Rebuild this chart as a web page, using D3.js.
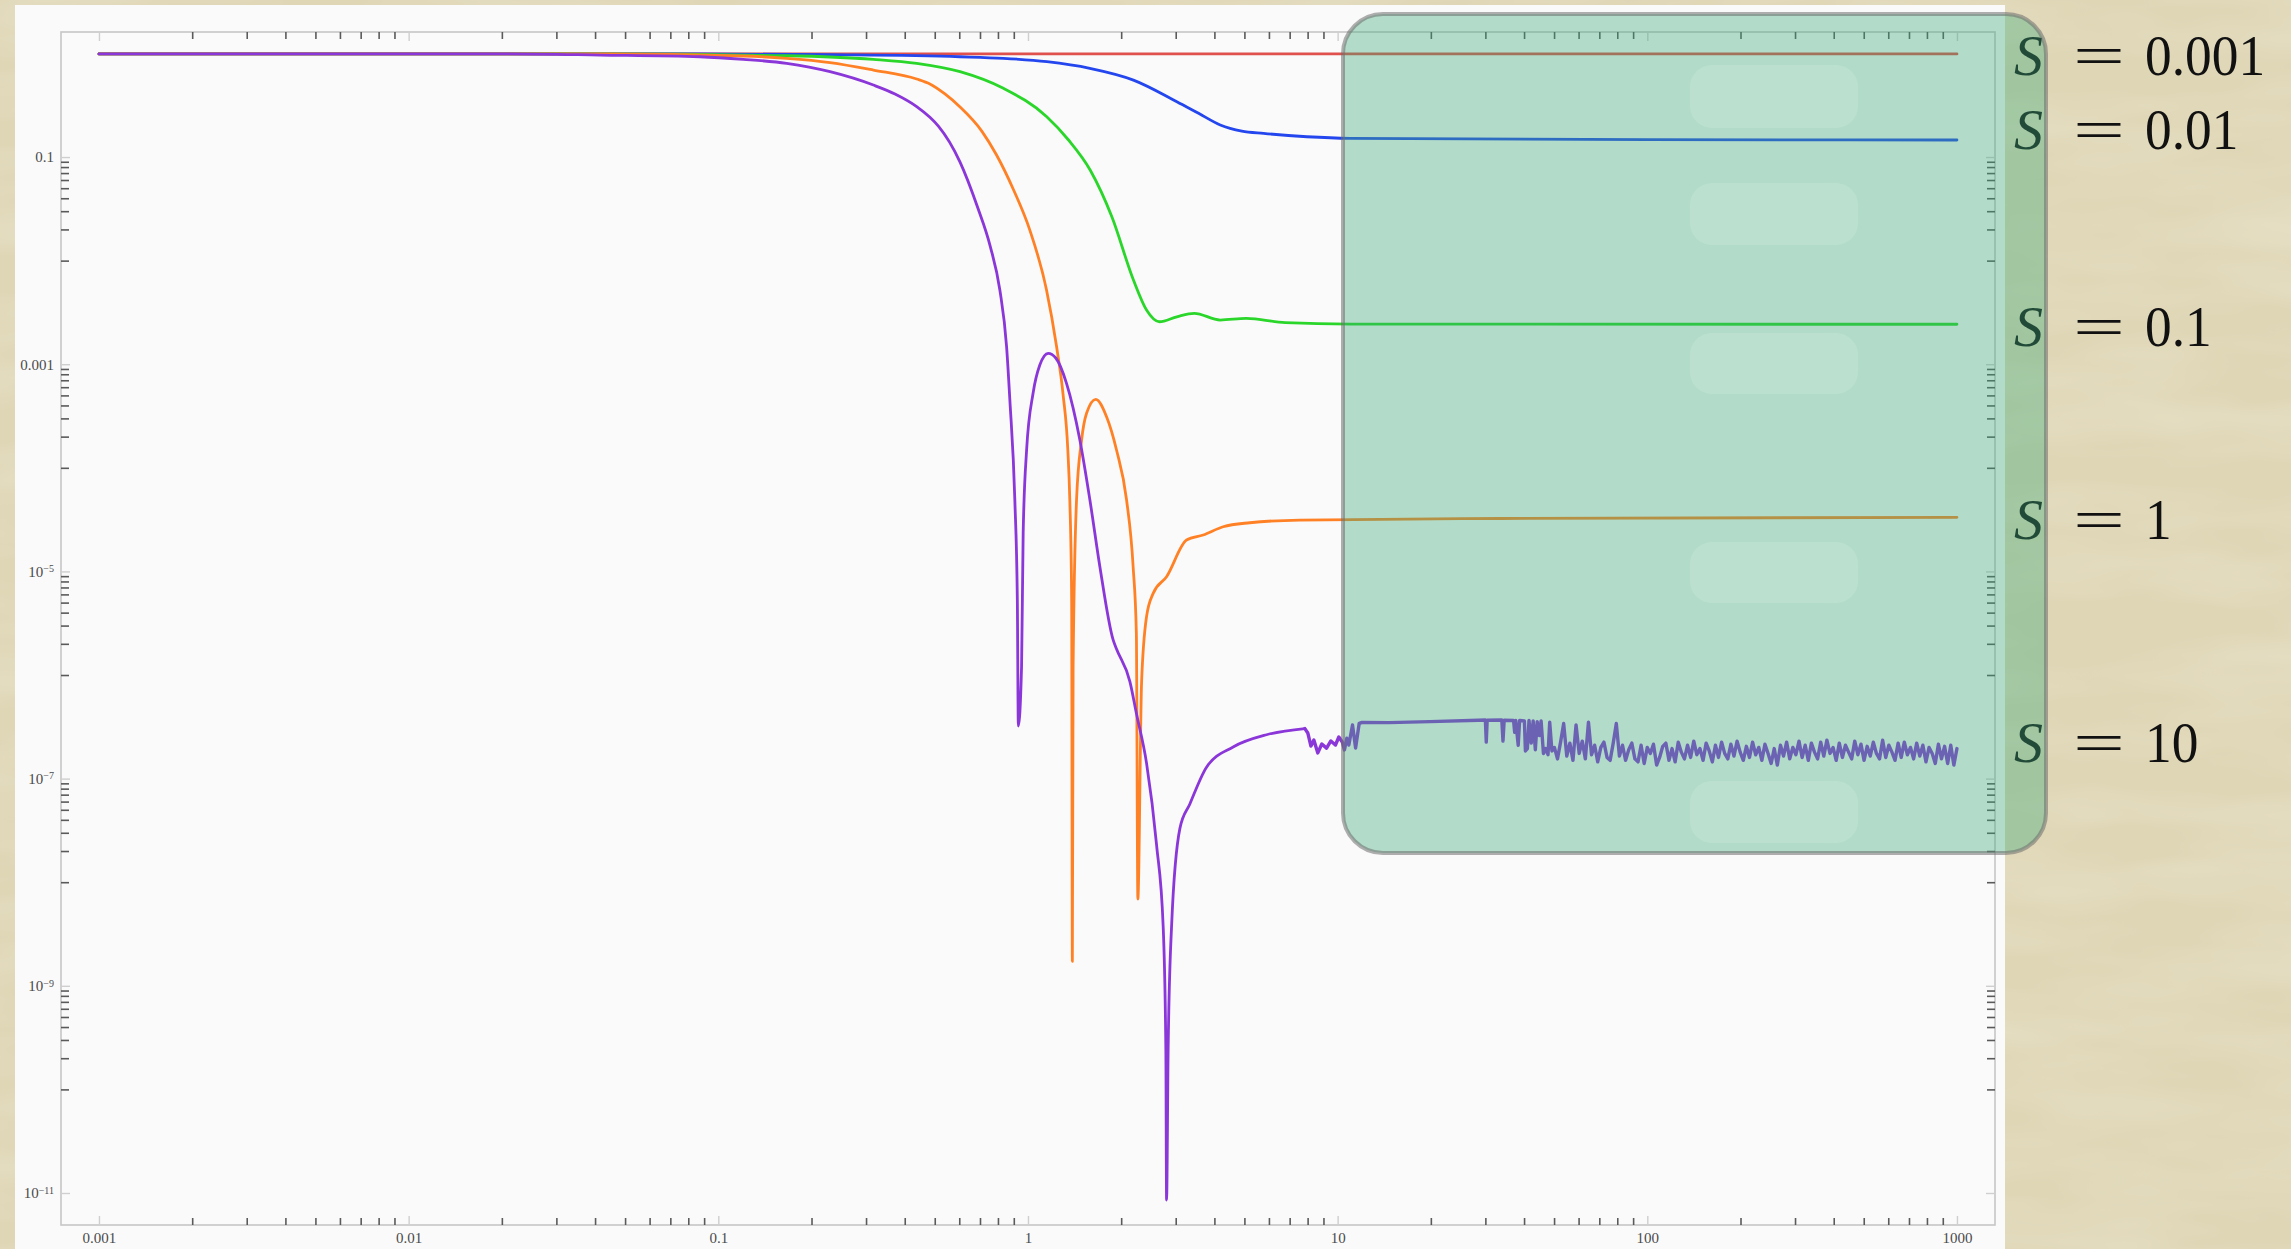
<!DOCTYPE html>
<html>
<head>
<meta charset="utf-8">
<script src="https://cdn.jsdelivr.net/npm/d3@7"></script>
<style>
  html, body { margin: 0; padding: 0; background: #dfd6b6; overflow: hidden; }
  svg { display: block; }
</style>
</head>
<body>
<svg id="chart" width="2291" height="1249"></svg>
<script>
// ---- data: |response| vs frequency for several S values (log-log) ----
const seriesNames  = ["S = 0.001", "S = 0.01", "S = 0.1", "S = 1", "S = 10"];
const seriesValues = ["0.001", "0.01", "0.1", "1", "10"];
const seriesColors = ["#e0504c", "#2446ee", "#2ad62a", "#ff8126", "#8a36d8"];

const curveS0001 = [[0.001, 0.99], [0.01, 0.99], [0.1, 0.99], [1, 0.99], [10, 0.99], [100, 0.99], [1000, 0.99]];

const curveS001 = [
  [0.001, 0.99], [0.0872, 0.99], [0.2293, 0.972], [0.6026, 0.929], [0.833, 0.897],
  [1.151, 0.832], [1.584, 0.718], [2.191, 0.553], [3.026, 0.342], [3.556, 0.264],
  [4.178, 0.204], [4.906, 0.178], [5.765, 0.169], [7.955, 0.157], [10.99, 0.1516],
  [100, 0.147], [1000, 0.146]
];

const curveS01 = [
  [0.001, 0.99], [0.0415, 0.99], [0.1662, 0.95], [0.3168, 0.877], [0.4371, 0.802],
  [0.6035, 0.666], [0.833, 0.46], [1.15, 0.245], [1.352, 0.146], [1.588, 0.0749],
  [1.866, 0.0265], [2.191, 0.0065], [2.415, 0.00334], [2.66, 0.00257], [3.026, 0.00287],
  [3.443, 0.0031], [4.178, 0.00267], [5.069, 0.00277], [6.773, 0.00252], [10.99, 0.00244],
  [1000, 0.00243]
];

const curveS1 = [
  [0.001, 0.99], [0.0415, 0.99], [0.1204, 0.944], [0.1662, 0.897], [0.2295, 0.817],
  [0.3168, 0.691], [0.4371, 0.566], [0.4823, 0.507], [0.5393, 0.406], [0.6035, 0.304],
  [0.7093, 0.178], [0.7917, 0.1045], [0.8958, 0.0491], [1.014, 0.0197], [1.148, 0.0052],
  [1.237, 0.00148], [1.299, 5.04e-4], [1.345, 1.485e-4], [1.365, 4.89e-5], [1.384, 5.3e-6],
  [1.391, 1.72e-9], [1.399, 1.2e-6], [1.435, 4.89e-5], [1.490, 1.855e-4], [1.546, 3.36e-4],
  [1.656, 4.58e-4], [1.794, 3.11e-4], [1.932, 1.485e-4], [2.082, 4.89e-5], [2.186, 1.11e-5],
  [2.239, 2.54e-6], [2.264, 6.88e-9], [2.327, 8.31e-7], [2.415, 3.66e-6], [2.537, 6.14e-6],
  [2.803, 8.89e-6], [3.252, 2.01e-5], [3.680, 2.245e-5], [4.268, 2.70e-5], [5.206, 2.95e-5],
  [7.549, 3.13e-5], [33.4, 3.24e-5], [1000, 3.33e-5]
];

// S = 10: smooth part up to the first plateau
const curveS10 = [
  [0.001, 0.99], [0.0197, 0.99], [0.0415, 0.965], [0.0872, 0.929], [0.1204, 0.877],
  [0.1662, 0.802], [0.2295, 0.666], [0.3168, 0.495], [0.372, 0.406], [0.4371, 0.307],
  [0.4823, 0.242], [0.5137, 0.199], [0.6035, 0.0894], [0.6867, 0.0331], [0.7562, 0.0136],
  [0.8114, 0.0052], [0.853, 0.00148], [0.874, 4.53e-4], [0.907, 4.89e-5], [0.924, 5.3e-6],
  [0.931, 3.22e-7], [0.9535, 1.2e-6], [0.965, 2.35e-5], [0.990, 1.485e-4], [1.039, 5.27e-4],
  [1.092, 9.82e-4], [1.162, 1.274e-3], [1.230, 1.148e-3], [1.332, 6.54e-4], [1.471, 1.855e-4],
  [1.585, 4.89e-5], [1.707, 1.11e-5], [1.884, 2.18e-6], [1.932, 1.78e-6], [2.134, 8.64e-7],
  [2.242, 4.2e-7], [2.415, 1.41e-7], [2.602, 2.29e-8], [2.733, 3.74e-9], [2.788, 2.4e-10],
  [2.803, 8.56e-12], [2.836, 2.45e-10], [2.909, 3.74e-9], [3.094, 3.29e-8], [3.333, 5.69e-8],
  [3.773, 1.29e-7], [4.598, 2.02e-7], [5.894, 2.65e-7], [7.837, 3.04e-7]
];

// S = 10: numerically noisy high-frequency tail
const curveS10Tail = [
  [7.837, 3.04e-7],
  [8.01, 2.76e-7], [8.20, 2.06e-7], [8.38, 2.36e-7], [8.63, 1.77e-7], [8.89, 2.16e-7],
  [9.21, 1.97e-7], [9.51, 2.31e-7], [9.84, 2.11e-7], [10.09, 2.52e-7], [10.35, 2.26e-7],
  [10.52, 1.89e-7], [10.71, 2.46e-7], [10.87, 2.11e-7], [11.17, 3.29e-7], [11.43, 1.97e-7],
  [11.74, 3.42e-7], [11.97, 3.48e-7], [14.67, 3.47e-7], [19.85, 3.55e-7], [28.5, 3.66e-7],
  [30.0, 3.68e-7], [30.2, 2.25e-7], [30.4, 3.66e-7], [33.9, 3.68e-7], [34.2, 2.3e-7],
  [34.5, 3.66e-7], [37.0, 3.64e-7], [37.3, 2.8e-7], [37.6, 3.64e-7], [38.3, 2.1e-7],
  [38.7, 3.64e-7], [40.1, 3.6e-7], [40.4, 1.85e-7], [41.0, 1.95e-7], [41.5, 3.64e-7],
  [42.2, 2.2e-7], [42.8, 3.6e-7], [43.5, 1.9e-7], [44.1, 3.55e-7], [44.8, 2.6e-7],
  [45.4, 3.6e-7], [46.2, 1.75e-7], [47.0, 1.95e-7], [47.8, 1.7e-7], [48.4, 3.5e-7],
  [49.2, 1.85e-7],
  [50.12, 2.0e-7], [51.29, 1.55e-7], [52.48, 2.25e-7], [53.70, 3.4e-7], [54.95, 1.65e-7],
  [56.23, 2.2e-7], [57.54, 1.5e-7], [58.88, 3.3e-7], [60.26, 1.75e-7], [61.66, 2.3e-7],
  [63.10, 1.55e-7], [64.57, 3.5e-7], [66.07, 1.7e-7], [67.61, 2.1e-7], [69.18, 1.45e-7],
  [70.79, 2.0e-7], [72.44, 2.25e-7], [74.13, 1.6e-7], [75.86, 1.5e-7], [77.62, 2.2e-7],
  [79.43, 3.4e-7], [81.28, 1.65e-7], [83.18, 2.1e-7], [85.11, 1.5e-7], [87.10, 1.9e-7],
  [89.13, 2.2e-7], [91.20, 1.55e-7], [93.33, 1.45e-7], [95.50, 2.1e-7], [97.72, 1.4e-7],
  [100, 2.0e-7], [102.3, 1.75e-7], [104.7, 2.15e-7], [107.2, 1.35e-7], [109.6, 1.6e-7],
  [112.2, 2.05e-7], [114.8, 2.2e-7], [117.5, 1.5e-7], [120.2, 1.95e-7], [123.0, 1.45e-7],
  [125.9, 2.25e-7], [128.8, 1.8e-7], [131.8, 1.55e-7], [134.9, 2.1e-7], [138.0, 1.6e-7],
  [141.3, 2.3e-7], [144.5, 1.7e-7], [147.9, 1.95e-7], [151.4, 1.5e-7], [154.9, 2.2e-7],
  [158.5, 1.85e-7], [162.2, 1.45e-7], [166.0, 2.1e-7], [169.8, 1.6e-7], [173.8, 2.25e-7],
  [177.8, 1.75e-7], [182.0, 1.55e-7], [186.2, 2.15e-7], [190.5, 1.65e-7], [195.0, 2.3e-7],
  [199.5, 1.8e-7], [204.2, 1.5e-7], [208.9, 2.05e-7], [213.8, 1.6e-7], [218.8, 2.25e-7],
  [223.9, 1.7e-7], [229.1, 2.0e-7], [234.4, 1.5e-7], [239.9, 2.15e-7], [245.5, 1.75e-7],
  [251.2, 1.4e-7], [257.0, 1.95e-7], [263.0, 1.35e-7], [269.2, 2.1e-7], [275.4, 1.65e-7],
  [281.8, 2.25e-7], [288.4, 1.55e-7], [295.1, 2.0e-7], [302.0, 1.7e-7], [309.0, 2.3e-7],
  [316.2, 1.6e-7], [323.6, 2.1e-7], [331.1, 1.5e-7], [338.8, 2.2e-7], [346.7, 1.8e-7],
  [354.8, 1.55e-7], [363.1, 2.25e-7], [371.5, 1.65e-7], [380.2, 2.35e-7], [389.0, 1.75e-7],
  [398.1, 2.0e-7], [407.4, 1.5e-7], [416.9, 2.2e-7], [426.6, 1.6e-7], [436.5, 2.1e-7],
  [446.7, 1.8e-7], [457.1, 1.55e-7], [467.7, 2.3e-7], [478.6, 1.7e-7], [489.8, 2.15e-7],
  [501.2, 1.5e-7], [512.9, 2.05e-7], [524.8, 1.65e-7], [537.0, 2.25e-7], [549.5, 1.75e-7],
  [562.3, 1.55e-7], [575.4, 2.35e-7], [588.8, 1.6e-7], [602.6, 2.1e-7], [616.6, 1.8e-7],
  [631.0, 1.5e-7], [645.7, 2.2e-7], [660.7, 1.6e-7], [676.1, 2.25e-7], [691.8, 1.7e-7],
  [707.9, 2.0e-7], [724.4, 1.55e-7], [741.3, 2.2e-7], [758.6, 1.65e-7], [776.2, 2.1e-7],
  [794.3, 1.45e-7], [812.8, 2.0e-7], [831.8, 1.75e-7], [851.1, 1.4e-7], [871.0, 2.15e-7],
  [891.3, 1.55e-7], [912.0, 2.05e-7], [933.3, 1.4e-7], [955.0, 2.1e-7], [977.2, 1.35e-7],
  [1000, 1.95e-7]
];

const seriesData = [curveS0001, curveS001, curveS01, curveS1, curveS10];

// axes
const xDomain = [7.54e-4, 1327];
const yDomain = [4.91e-12, 1.61];
const xTickValues = [0.001, 0.01, 0.1, 1, 10, 100, 1000];
const xTickLabels = ["0.001", "0.01", "0.1", "1", "10", "100", "1000"];
const yTickValues = [0.1, 0.001, 1e-5, 1e-7, 1e-9, 1e-11];
const yTickLabels = ["0.1", "0.001", "10^\u22125", "10^\u22127", "10^\u22129", "10^\u221211"];
const yMidTicks = [0.01, 1e-4, 1e-6, 1e-8, 1e-10];
const minorSteps = [2, 3, 4, 5, 6, 7, 8, 9];

// ---- layout ----
const W = 2291, H = 1249;
const plot = { left: 61, right: 1995, top: 32, bottom: 1225 };
const svg = d3.select("#chart");
const defs = svg.append("defs");

// parchment backdrop
const paper = defs.append("filter").attr("id", "paper")
  .attr("x", 0).attr("y", 0).attr("width", "100%").attr("height", "100%");
paper.append("feTurbulence").attr("type", "fractalNoise")
  .attr("baseFrequency", "0.005 0.02").attr("numOctaves", 3).attr("seed", 11).attr("result", "n");
paper.append("feColorMatrix").attr("in", "n").attr("type", "matrix")
  .attr("values", "0 0 0 0 0.95  0 0 0 0 0.92  0 0 0 0 0.80  0.45 0 0 0 -0.16");
svg.append("rect").attr("width", W).attr("height", H).attr("fill", "#dfd6b6");
svg.append("rect").attr("width", W).attr("height", H).attr("filter", "url(#paper)");

// white plot sheet
svg.append("rect").attr("x", 15).attr("y", 5).attr("width", 1990).attr("height", H - 5)
  .attr("fill", "#fafafa");

const x = d3.scaleLog().domain(xDomain).range([plot.left, plot.right]);
const y = d3.scaleLog().domain(yDomain).range([plot.bottom, plot.top]);

const xMinor = xTickValues.slice(0, -1).flatMap(d => minorSteps.map(m => m * d));
const yMinor = yTickValues.slice(0, -1).flatMap(d => minorSteps.map(m => m * d / 10));

function styleAxis(g, color, width) {
  g.select(".domain").remove();
  g.selectAll(".tick line").attr("stroke", color).attr("stroke-width", width);
}

// frame
svg.append("rect")
  .attr("x", plot.left).attr("y", plot.top)
  .attr("width", plot.right - plot.left).attr("height", plot.bottom - plot.top)
  .attr("fill", "none").attr("stroke", "#c6c6c6").attr("stroke-width", 1.6);

const axesG = svg.append("g");
const tickFont = "'Liberation Serif', 'Times New Roman', serif";

// horizontal axes (bottom labelled, top mirrored)
[["bottom", plot.bottom, d3.axisBottom], ["top", plot.top, d3.axisTop]].forEach(([side, yPos, gen]) => {
  const gMinor = axesG.append("g").attr("transform", `translate(0,${yPos})`)
    .call(gen(x).tickValues(xMinor).tickSize(-7).tickSizeOuter(0).tickFormat(""));
  styleAxis(gMinor, "#5a5a5a", 1.6);
  const gMajor = axesG.append("g").attr("transform", `translate(0,${yPos})`)
    .call(gen(x).tickValues(xTickValues).tickSize(-9).tickSizeOuter(0).tickPadding(7)
      .tickFormat((d, i) => side === "bottom" ? xTickLabels[i] : ""));
  styleAxis(gMajor, "#cfcfcf", 1.4);
  gMajor.selectAll("text").attr("font-family", tickFont)
    .attr("font-size", 15).attr("fill", "#4a4a4a");
});

// vertical axes (left labelled, right mirrored)
[["left", plot.left, d3.axisLeft], ["right", plot.right, d3.axisRight]].forEach(([side, xPos, gen]) => {
  const gMinor = axesG.append("g").attr("transform", `translate(${xPos},0)`)
    .call(gen(y).tickValues(yMinor.concat(yMidTicks)).tickSize(-8).tickSizeOuter(0).tickFormat(""));
  styleAxis(gMinor, "#5a5a5a", 1.6);
  const gMajor = axesG.append("g").attr("transform", `translate(${xPos},0)`)
    .call(gen(y).tickValues(yTickValues).tickSize(-9).tickSizeOuter(0).tickPadding(7)
      .tickFormat((d, i) => side === "left" ? yTickLabels[i] : ""));
  styleAxis(gMajor, "#cfcfcf", 1.4);
  gMajor.selectAll("text")
    .attr("font-family", tickFont)
    .attr("font-size", 15).attr("fill", "#4a4a4a")
    .each(function () {
      const t = d3.select(this);
      const s = t.text();
      if (s.includes("^")) {
        const [base, exp] = s.split("^");
        t.text(null);
        t.append("tspan").text(base);
        t.append("tspan").attr("dy", "-0.45em").attr("font-size", 10).text(exp);
      }
    });
});

// curves
const smoothLine = d3.line()
  .x(d => x(d[0]))
  .y(d => y(d[1]))
  .curve(d3.curveMonotoneX);
const jaggedLine = d3.line()
  .x(d => x(d[0]))
  .y(d => y(d[1]))
  .curve(d3.curveLinear);

const curvesG = svg.append("g")
  .attr("fill", "none").attr("stroke-width", 2.8)
  .attr("stroke-linejoin", "round").attr("stroke-linecap", "round");
seriesData.forEach((data, i) => {
  curvesG.append("path")
    .datum(data)
    .attr("d", smoothLine)
    .attr("stroke", seriesColors[i]);
});
curvesG.append("path")
  .datum(curveS10Tail)
  .attr("d", jaggedLine)
  .attr("stroke", seriesColors[4])
  .attr("stroke-width", 3.4);

// series labels at the right end of each curve
const labelBaselines = [75, 149, 346, 539, 762];
const labelsG = svg.append("g").attr("fill", "#111").attr("font-family", tickFont).attr("font-size", 58);
seriesNames.forEach((name, i) => {
  const t = labelsG.append("text").attr("y", labelBaselines[i]);
  t.append("tspan").attr("x", 2014).attr("font-style", "italic").text("S");
  t.append("tspan").attr("x", 2073).attr("textLength", 52).attr("lengthAdjust", "spacingAndGlyphs").text("=");
  const num = t.append("tspan").attr("x", 2145).text(seriesValues[i]);
  const natural = num.node().getComputedTextLength();
  num.attr("textLength", natural * 0.92).attr("lengthAdjust", "spacingAndGlyphs");
});

// translucent highlight panel over the high-frequency plateaus
const panel = svg.append("g");
panel.append("rect")
  .attr("x", 1343).attr("y", 14).attr("width", 703).attr("height", 839)
  .attr("rx", 40).attr("ry", 40)
  .attr("fill", "rgba(60,170,120,0.38)")
  .attr("stroke", "rgba(110,110,110,0.55)").attr("stroke-width", 4);
[[65, 63], [183, 62], [333, 61], [542, 61], [781, 62]].forEach(([top, h]) => {
  panel.append("rect")
    .attr("x", 1690).attr("y", top).attr("width", 168).attr("height", h)
    .attr("rx", 22).attr("ry", 22)
    .attr("fill", "#ffffff").attr("opacity", 0.12);
});
</script>
</body>
</html>
